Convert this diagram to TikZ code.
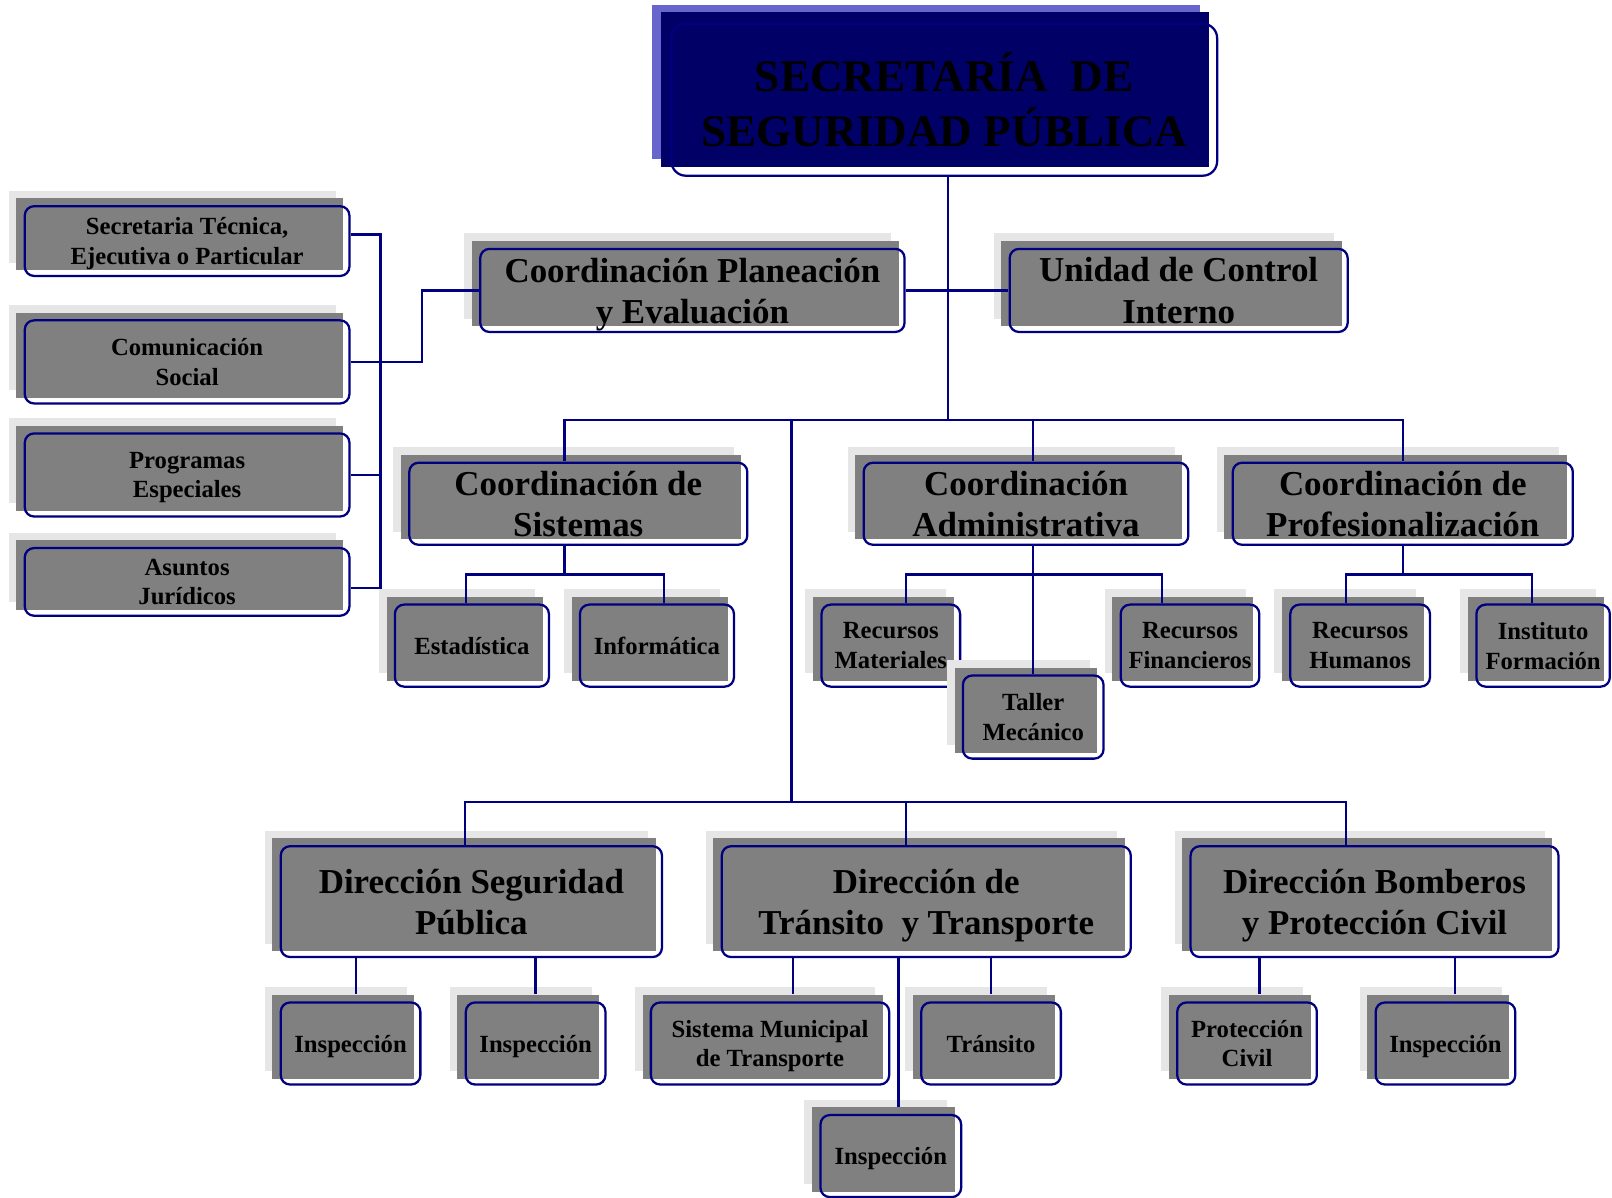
\documentclass[tikz,border=0pt]{standalone}
\usepackage{fontspec}
\setmainfont{Liberation Serif}
\usetikzlibrary{shadows}
\definecolor{navy}{HTML}{000080}
\definecolor{boxgrey}{HTML}{808080}
\definecolor{boxlite}{HTML}{E6E6E6}
\definecolor{headfill}{HTML}{000066}
\definecolor{headlite}{HTML}{6666CC}

\begin{document}
\begin{tikzpicture}[
  x=1pt, y=1pt,
  rim/.style={path picture={\draw[draw=navy, draw opacity=1, line width=2.2pt, rounded corners=#1]
     ([shift={(1.1pt,-1.1pt)}]path picture bounding box.north west) rectangle
     ([shift={(-1.1pt,1.1pt)}]path picture bounding box.south east);}},
  card/.style={rectangle, inner sep=0pt, align=center, text=black,
     draw, draw opacity=0, rim=9pt,
     general shadow={fill=boxlite, shadow xshift=-14.5pt, shadow yshift=14pt},
     general shadow={fill=boxgrey, shadow xshift=-7pt, shadow yshift=6.5pt}},
  office/.style={card, font=\fontsize{24}{29}\selectfont\bfseries, text depth=-5pt},
  dept/.style={card, font=\fontsize{34}{40}\selectfont\bfseries, text depth=-7pt},
  head/.style={rectangle, inner sep=0pt, align=center, text=black,
     draw, draw opacity=0, rim=14pt,
     general shadow={fill=headlite, shadow xshift=-17.5pt, shadow yshift=17pt},
     general shadow={fill=headfill, shadow xshift=-9.5pt, shadow yshift=10pt},
     font=\fontsize{44}{53}\selectfont\bfseries},
  link/.style={draw=navy, line width=2.2pt},
]
\useasboundingbox (0,0) rectangle (1568,-1165);
% --- rows (top -> bottom) ---
\def\ytop{-97}
\def\ycoa{-282.5}
\def\ycob{-490}
\def\ysub{-628}
\def\ytal{-697.5}
\def\ydir{-877}
\def\ybot{-1015}
\def\yins{-1124.5}
% head
\node[head, minimum width=533pt, minimum height=150pt] (top) at (918.5,\ytop)
  {SECRETARÍA\ \ DE\\SEGURIDAD PÚBLICA};
% staff offices (left column)
\node[office, minimum width=318pt, minimum height=70pt] (sec)  at (182,-234.5) {Secretaria Técnica,\\Ejecutiva o Particular};
\node[office, minimum width=318pt, minimum height=83pt] (com)  at (182,-352) {Comunicación\\Social};
\node[office, minimum width=318pt, minimum height=83pt] (prog) at (182,-462) {Programas\\Especiales};
\node[office, minimum width=318pt, minimum height=68pt] (asu)  at (182,-566) {Asuntos\\Jurídicos};
% first level
\node[dept, minimum width=415pt, minimum height=83pt] (pla) at (673.5,\ycoa) {Coordinación Planeación\\y Evaluación};
\node[dept, minimum width=331pt, minimum height=83pt] (uni) at (1146.5,\ycoa) {Unidad de Control\\Interno};
% coordinations
\node[dept, minimum width=331pt, minimum height=82pt] (sis) at (562.5,\ycob) {Coordinación de\\Sistemas};
\node[dept, minimum width=318pt, minimum height=82pt] (adm) at (998,\ycob) {Coordinación\\Administrativa};
\node[dept, minimum width=333pt, minimum height=82pt] (pro) at (1364.5,\ycob) {Coordinación de\\Profesionalización};
% units under coordinations
\node[office, minimum width=152pt, minimum height=82pt] (est)  at (459,\ysub) {Estadística};
\node[office, minimum width=152pt, minimum height=82pt] (inf)  at (639,\ysub) {Informática};
\node[office, minimum width=137pt, minimum height=82pt] (rmat) at (866.5,\ysub) {Recursos\\Materiales};
\node[office, minimum width=139pt, minimum height=83pt] (tal)  at (1005,\ytal) {Taller\\Mecánico};
\node[office, minimum width=137pt, minimum height=82pt] (rfin) at (1157.5,\ysub) {Recursos\\Financieros};
\node[office, minimum width=138pt, minimum height=82pt] (rhum) at (1323,\ysub) {Recursos\\Humanos};
\node[office, minimum width=132pt, minimum height=82pt] (ifor) at (1501,\ysub) {Instituto\\Formación};
% directions
\node[dept, minimum width=373pt, minimum height=110pt] (dsp) at (458.5,\ydir) {Dirección Seguridad\\Pública};
\node[dept, minimum width=400pt, minimum height=110pt] (dtt) at (901,\ydir) {Dirección de\\Tránsito\ \ y Transporte};
\node[dept, minimum width=360pt, minimum height=110pt] (dbp) at (1337,\ydir) {Dirección Bomberos\\y Protección Civil};
% units under directions
\node[office, minimum width=138pt, minimum height=82pt] (insp1) at (341,\ybot) {Inspección};
\node[office, minimum width=138pt, minimum height=82pt] (insp2) at (521,\ybot) {Inspección};
\node[office, minimum width=234pt, minimum height=82pt] (smt)   at (749,\ybot) {Sistema Municipal\\de Transporte};
\node[office, minimum width=138pt, minimum height=82pt] (tra)   at (964,\ybot) {Tránsito};
\node[office, minimum width=139pt, minimum height=82pt] (insp3) at (866.5,\yins) {Inspección};
\node[office, minimum width=138pt, minimum height=82pt] (pciv)  at (1213,\ybot) {Protección\\Civil};
\node[office, minimum width=138pt, minimum height=82pt] (insp4) at (1406,\ybot) {Inspección};
% --- connectors ---
% left column
\draw[link] ([yshift=6.5pt]sec.east) -- ++(29,0) |- ([yshift=-6pt]asu.east);
\draw[link] (prog.east) -- ++(29,0);
\draw[link] (com.east) -- ++(69,0) |- (pla.west);
% main trunk and bus
\draw[link] ([xshift=3.5pt]top.south) -- ++(0,-236) coordinate (hub);
\draw[link] (pla.east) -- (uni.west);
\draw[link] ([xshift=-13.5pt]sis.north) |- (hub) -| (pro.north);
\draw[link] ([xshift=7pt]adm.north) -- ++(0,41);
\draw[link] (hub) ++(-152,0) -- ++(0,-372) coordinate (dirhub);
\draw[link] ([xshift=-6.5pt]dsp.north) |- (dirhub) -| ([xshift=-28pt]dbp.north);
\draw[link] ([xshift=-20pt]dtt.north) -- ++(0,42);
% coordinations -> units
\draw[link] ([xshift=-13.5pt]sis.south) -- ++(0,-28);
\draw[link] ([xshift=-6pt]est.north) -- ++(0,28) -| ([xshift=7pt]inf.north);
\draw[link] ([xshift=7pt]adm.south) -- (tal.north);
\draw[link] ([xshift=14.5pt]rmat.north) -- ++(0,28) -| ([xshift=-27.5pt]rfin.north);
\draw[link] (pro.south) -- ++(0,-28);
\draw[link] ([xshift=-14pt]rhum.north) -- ++(0,28) -| ([xshift=-11pt]ifor.north);
% directions -> units
\draw[link] ([xshift=5pt]insp1.north |- dsp.south) -- ([xshift=5pt,yshift=7pt]insp1.north);
\draw[link] (insp2.north |- dsp.south) -- ([yshift=7pt]insp2.north);
\draw[link] ([xshift=22pt]smt.north |- dtt.south) -- ([xshift=22pt,yshift=7pt]smt.north);
\draw[link] ([xshift=7.5pt]insp3.north |- dtt.south) -- ([xshift=7.5pt,yshift=7pt]insp3.north);
\draw[link] (tra.north |- dtt.south) -- ([yshift=7pt]tra.north);
\draw[link] ([xshift=12pt]pciv.north |- dbp.south) -- ([xshift=12pt,yshift=7pt]pciv.north);
\draw[link] ([xshift=9pt]insp4.north |- dbp.south) -- ([xshift=9pt,yshift=7pt]insp4.north);
\end{tikzpicture}
\end{document}
